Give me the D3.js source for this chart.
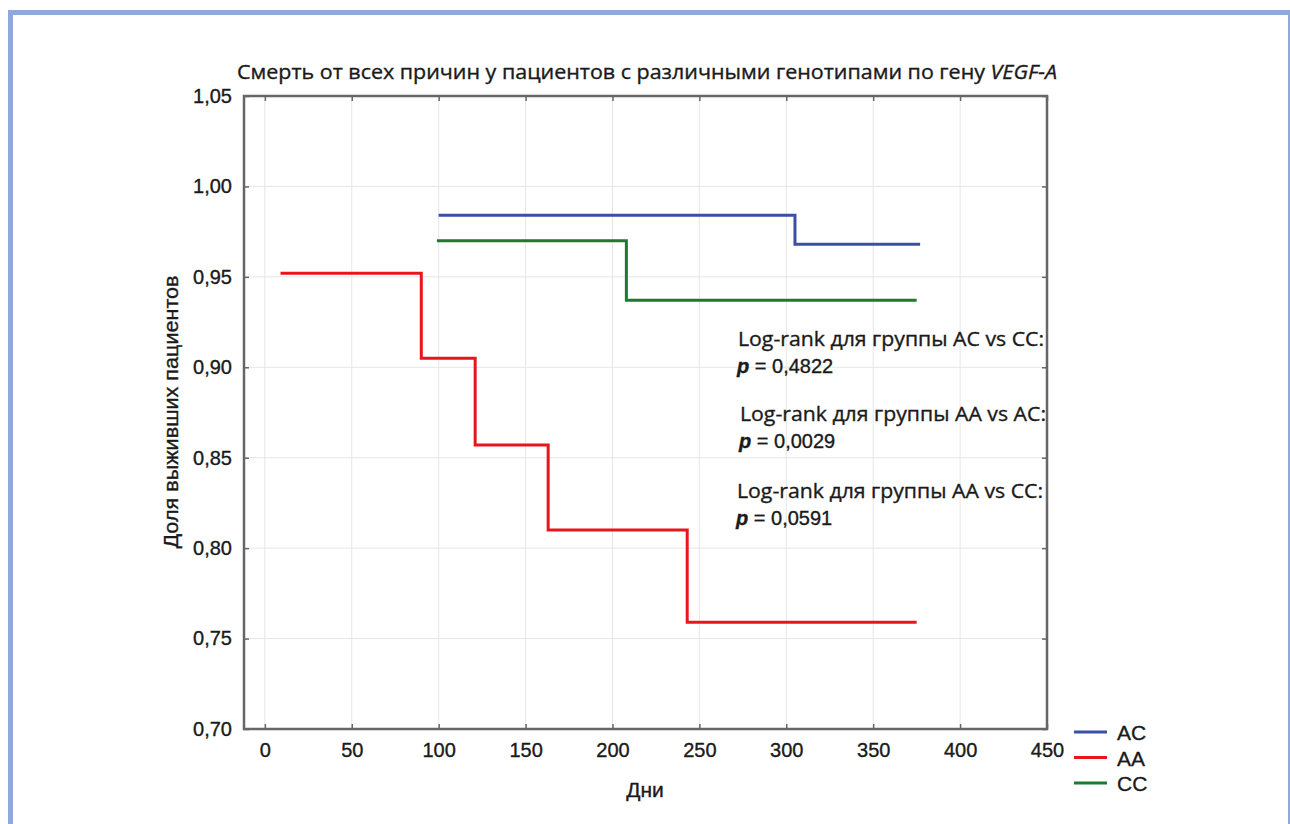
<!DOCTYPE html>
<html>
<head>
<meta charset="utf-8">
<script src="https://cdn.jsdelivr.net/npm/d3@7"></script>
<style>
  body { margin: 0; background: #fff; }
  svg text { font-family: "Liberation Sans", Arial, sans-serif; fill: #1a1a1a; stroke: #1a1a1a; stroke-width: 0.35; }
  .grid line { stroke: #e6e6e6; stroke-width: 1; }
  .frame { fill: none; stroke: #666; stroke-width: 2.5; }
  .note { font-family: "Open Sans", "Noto Sans", sans-serif; }
</style>
</head>
<body>
<svg id="chart" width="1290" height="824"></svg>
<script>
// survival steps: [day, share]
const acSteps = [[100, 0.984], [305, 0.968], [377, 0.968]];
const aaSteps = [[9, 0.952], [90, 0.905], [121, 0.857], [163, 0.810], [243, 0.759], [375, 0.759]];
const ccSteps = [[99, 0.970], [208, 0.937], [375, 0.937]];

const groups = ["AC", "AA", "CC"];
const groupColors = ["#3b4fa6", "#e8161c", "#1e7a30"];
const xTicks = [0, 50, 100, 150, 200, 250, 300, 350, 400, 450];
const yTicks = [0.70, 0.75, 0.80, 0.85, 0.90, 0.95, 1.00, 1.05];
const notes = [
  ["Log-rank для группы AC vs CC:", "0,4822"],
  ["Log-rank для группы AA vs AC:", "0,0029"],
  ["Log-rank для группы AA vs CC:", "0,0591"]
];

const svg = d3.select("#chart");

// outer blue frame
svg.append("rect")
  .attr("x", 10.5).attr("y", 12.5)
  .attr("width", 1280).attr("height", 830)
  .attr("fill", "none")
  .attr("stroke", "#8faad6")
  .attr("stroke-width", 5);

const pLeft = 244, pRight = 1047, pTop = 96, pBottom = 729;

const x = d3.scaleLinear().domain([-12, 450]).range([pLeft, pRight]);
const y = d3.scaleLinear().domain([0.70, 1.05]).range([pBottom, pTop]);

// grid
const grid = svg.append("g").attr("class", "grid");
grid.selectAll(".gx").data(xTicks).enter().append("line")
  .attr("x1", d => x(d)).attr("x2", d => x(d))
  .attr("y1", pTop).attr("y2", pBottom);
grid.selectAll(".gy").data(yTicks).enter().append("line")
  .attr("x1", pLeft).attr("x2", pRight)
  .attr("y1", d => y(d)).attr("y2", d => y(d));

// axes (inward ticks on all four sides)
const fmt = d => d3.format(".2f")(d).replace(".", ",");
const axisStyle = g => {
  g.select(".domain").remove();
  g.selectAll(".tick line").attr("stroke", "#666").attr("stroke-width", 1.5);
  g.selectAll(".tick text").attr("font-size", 20).attr("fill", "#1a1a1a")
    .attr("font-family", "'Liberation Sans', Arial, sans-serif");
};
svg.append("g").attr("transform", `translate(0,${pBottom})`)
  .call(d3.axisBottom(x).tickValues(xTicks).tickSizeInner(-5).tickPadding(14))
  .call(axisStyle);
svg.append("g").attr("transform", `translate(0,${pTop})`)
  .call(d3.axisTop(x).tickValues(xTicks).tickSizeInner(-5).tickFormat(""))
  .call(axisStyle);
svg.append("g").attr("transform", `translate(${pLeft},0)`)
  .call(d3.axisLeft(y).tickValues(yTicks).tickSizeInner(-5).tickPadding(12).tickFormat(fmt))
  .call(axisStyle);
svg.append("g").attr("transform", `translate(${pRight},0)`)
  .call(d3.axisRight(y).tickValues(yTicks).tickSizeInner(-5).tickFormat(""))
  .call(axisStyle);

svg.append("rect").attr("class", "frame")
  .attr("x", pLeft).attr("y", pTop)
  .attr("width", pRight - pLeft).attr("height", pBottom - pTop);

// survival curves
const line = d3.line().x(d => x(d[0])).y(d => y(d[1])).curve(d3.curveStepAfter);
[acSteps, aaSteps, ccSteps].forEach((s, i) => {
  svg.append("path")
    .datum(s)
    .attr("d", line)
    .attr("fill", "none")
    .attr("stroke", groupColors[i])
    .attr("stroke-width", 3);
});

// title
const title = svg.append("text")
  .attr("class", "note")
  .attr("x", 237).attr("y", 79)
  .attr("font-size", 20)
  .attr("textLength", 820).attr("lengthAdjust", "spacingAndGlyphs");
title.append("tspan").text("Смерть от всех причин у пациентов с различными генотипами по гену ");
title.append("tspan").attr("font-style", "italic").text("VEGF-A");

// axis labels
svg.append("text")
  .attr("transform", "translate(178,412) rotate(-90)")
  .attr("text-anchor", "middle")
  .attr("font-size", 20)
  .attr("textLength", 273).attr("lengthAdjust", "spacingAndGlyphs")
  .text("Доля выживших пациентов");
svg.append("text")
  .attr("x", 645).attr("y", 797)
  .attr("text-anchor", "middle")
  .attr("font-size", 21)
  .text("Дни");

// log-rank notes
const noteY = [346, 421, 498];
const noteX = [738, 740, 737];
notes.forEach((n, i) => {
  svg.append("text").attr("class", "note")
    .attr("x", noteX[i]).attr("y", noteY[i])
    .attr("font-size", 20)
    .attr("textLength", 306).attr("lengthAdjust", "spacingAndGlyphs")
    .text(n[0]);
  const p = svg.append("text")
    .attr("x", noteX[i] - 1).attr("y", noteY[i] + 27)
    .attr("font-size", 20);
  p.append("tspan").attr("font-style", "italic").attr("font-weight", "bold").text("p");
  p.append("tspan").text(" = " + n[1]);
});

// legend
const legend = svg.append("g");
groups.forEach((g, i) => {
  const ly = 732 + i * 25.5;
  legend.append("line")
    .attr("x1", 1074).attr("x2", 1107)
    .attr("y1", ly).attr("y2", ly)
    .attr("stroke", groupColors[i]).attr("stroke-width", 3);
  legend.append("text")
    .attr("x", 1117).attr("y", ly + 8)
    .attr("font-size", 21)
    .text(g);
});
</script>
</body>
</html>
